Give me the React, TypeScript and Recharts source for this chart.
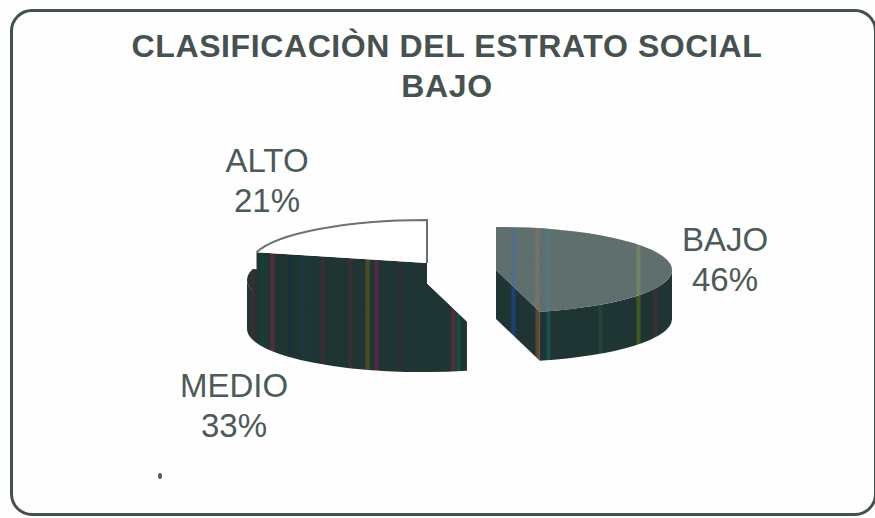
import { Pie, PieChart } from "recharts";

const categories = ["BAJO", "MEDIO", "ALTO"];
const shareValues = [46, 33, 21];
const titleLines = ["CLASIFICACIÒN DEL ESTRATO SOCIAL", "BAJO"];

const data = categories.map((name, i) => ({ name, value: shareValues[i] }));

const RX = 176;
const SQUASH = 0.245;
const DEPTH = 49;
const BASE_X = 460;
const BASE_Y = 270;

// how far each slice is pulled out of the pie
const explode: Record<string, [number, number]> = {
  BAJO: [36, 0],
  MEDIO: [-37, 10],
  ALTO: [-33, -7],
};

const labelSpots: Record<string, [number, number]> = {
  BAJO: [725, 251],
  MEDIO: [234, 397],
  ALTO: [267, 172],
};

// scanner streaks running through the dark faces
const darkStreaks: [number, string][] = [
  [252, "#3a2c30"], [262, "#133f34"], [272, "#562c38"], [290, "#1c2f3a"], [303, "#1e3642"],
  [322, "#3c2c36"], [350, "#3a2f36"], [367, "#4c4c20"], [376, "#562848"], [400, "#322c3a"],
  [453, "#562c3a"], [458, "#144c46"], [513, "#1c4078"], [537, "#5e4630"], [548, "#1a5050"],
  [600, "#24423a"], [638, "#405822"], [655, "#3c2f3a"],
];
const topStreaks: [number, string][] = [
  [513, "#4f6a96"], [537, "#7c7562"], [548, "#4f7a80"], [638, "#728a62"],
];

function streakStops(streaks: [number, string][], base: string) {
  const from = 230;
  const span = 460;
  const stops: React.ReactElement[] = [];
  streaks.forEach(([x, colour], i) => {
    const a = ((x - 2 - from) / span) * 100;
    const b = ((x + 2 - from) / span) * 100;
    stops.push(<stop key={i + "a"} offset={a + "%"} stopColor={base} />);
    stops.push(<stop key={i + "b"} offset={a + 0.2 + "%"} stopColor={colour} />);
    stops.push(<stop key={i + "c"} offset={b + "%"} stopColor={colour} />);
    stops.push(<stop key={i + "d"} offset={b + 0.2 + "%"} stopColor={base} />);
  });
  return stops;
}

function rim(cx: number, cy: number, deg: number, drop = 0) {
  const rad = (deg * Math.PI) / 180;
  return [cx + RX * Math.cos(rad), cy - RX * SQUASH * Math.sin(rad) + drop];
}

function SliceShape(props: any) {
  const { name, startAngle, endAngle, cx, cy } = props;
  const [dx, dy] = explode[name];
  const x = cx + dx;
  const y = cy + dy;
  const ry = RX * SQUASH;
  const [sx, sy] = rim(x, y, startAngle);
  const [ex, ey] = rim(x, y, endAngle);
  const large = startAngle - endAngle > 180 ? 1 : 0;
  const top = `M${x},${y} L${sx},${sy} A${RX},${ry} 0 ${large} 1 ${ex},${ey} Z`;

  // the front half of the rim is the only part of the wall you can see
  const a1 = Math.min(startAngle, 0);
  const a2 = Math.max(endAngle, -180);
  const [r1x, r1y] = rim(x, y, a1);
  const [r2x, r2y] = rim(x, y, a2);
  const wall = `M${r1x},${r1y} A${RX},${ry} 0 0 1 ${r2x},${r2y} L${r2x},${r2y + DEPTH} A${RX},${ry} 0 0 0 ${r1x},${r1y + DEPTH} Z`;
  const cutA = `M${x},${y} L${sx},${sy} L${sx},${sy + DEPTH} L${x},${y + DEPTH} Z`;
  const cutB = `M${x},${y} L${ex},${ey} L${ex},${ey + DEPTH} L${x},${y + DEPTH} Z`;

  const isAlto = name === "ALTO";
  const topFill = isAlto ? "#ffffff" : name === "BAJO" ? "url(#bajoTop)" : "url(#darkFace)";
  return (
    <g style={{ filter: "blur(0.7px)" }}>
      <path d={cutA} fill="url(#darkFace)" />
      <path d={cutB} fill="url(#darkFace)" />
      {a1 > a2 && <path d={wall} fill="url(#darkFace)" />}
      <path d={top} fill={topFill} filter={name === "BAJO" ? "url(#grain)" : undefined} />
      {isAlto && (
        <path
          d={`M${sx},${sy} A${RX},${ry} 0 0 1 ${ex},${ey} L${x},${y}`}
          fill="none"
          stroke="#6b7272"
          strokeWidth={2}
        />
      )}
    </g>
  );
}

function SliceLabel(props: any) {
  const { name, value } = props;
  const [x, y] = labelSpots[name];
  return (
    <text x={x} textAnchor="middle" fontFamily="Liberation Sans" fontSize={33} fill="#4c5a5a">
      <tspan x={x} y={y}>{name}</tspan>
      <tspan x={x} y={y + 40}>{value}%</tspan>
    </text>
  );
}

export default function App() {
  return (
    <div style={{ position: "absolute", left: 0, top: 0, width: 875, height: 518, background: "#fefefe", overflow: "hidden" }}>
      <div
        style={{
          position: "absolute",
          left: 10,
          top: 9,
          width: 867,
          height: 507,
          boxSizing: "border-box",
          border: "3px solid #44504e",
          borderRadius: 22,
        }}
      />
      <div style={{ position: "absolute", left: 0, top: 0 }}>
        <PieChart width={875} height={518} margin={{ top: 0, right: 0, bottom: 0, left: 0 }}>
          <defs>
            <linearGradient id="darkFace" gradientUnits="userSpaceOnUse" x1={230} x2={690} y1={0} y2={0}>
              {streakStops(darkStreaks, "#1f3533")}
            </linearGradient>
            <linearGradient id="bajoTop" gradientUnits="userSpaceOnUse" x1={230} x2={690} y1={0} y2={0}>
              {streakStops(topStreaks, "#5f6f6d")}
            </linearGradient>
            <filter id="grain" x="0" y="0" width="100%" height="100%">
              <feTurbulence type="fractalNoise" baseFrequency="0.8" numOctaves={2} seed={3} result="noise" />
              <feColorMatrix
                in="noise"
                type="matrix"
                values="0 0 0 0 0.12  0 0 0 0 0.16  0 0 0 0 0.16  0 0 0 1.1 -0.3"
                result="specks"
              />
              <feComposite in="specks" in2="SourceGraphic" operator="in" result="clipped" />
              <feMerge>
                <feMergeNode in="SourceGraphic" />
                <feMergeNode in="clipped" />
              </feMerge>
            </filter>
          </defs>
          <text textAnchor="middle" fontFamily="Liberation Sans" fontWeight="bold" fontSize={32} letterSpacing={0.6} fill="#46524f">
            <tspan x={447} y={57}>{titleLines[0]}</tspan>
            <tspan x={447} y={97}>{titleLines[1]}</tspan>
          </text>
          <ellipse cx={160} cy={476} rx={2} ry={3} fill="#4c5a5a" />
          <Pie
            data={data}
            dataKey="value"
            nameKey="name"
            cx={BASE_X}
            cy={BASE_Y}
            outerRadius={RX}
            startAngle={90}
            endAngle={-270}
            shape={SliceShape}
            label={SliceLabel}
            labelLine={false}
            isAnimationActive={false}
          />
        </PieChart>
      </div>
    </div>
  );
}
